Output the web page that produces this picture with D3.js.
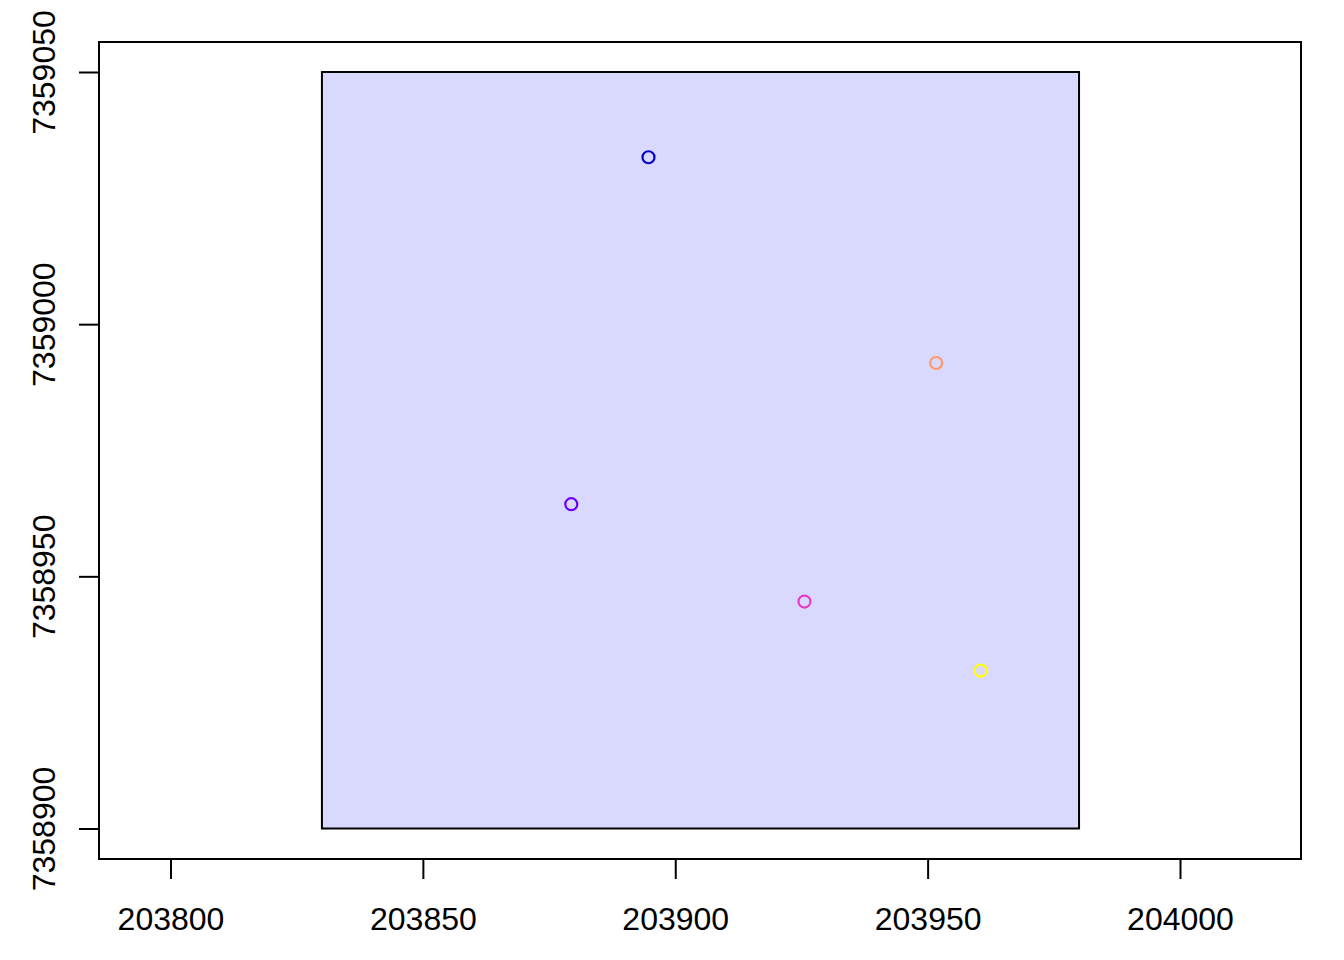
<!DOCTYPE html>
<html><head><meta charset="utf-8">
<script src="https://cdn.jsdelivr.net/npm/d3@7"></script>
<style>body{margin:0;background:#fff}svg{display:block}</style>
</head><body>
<script>
const xTicks = [203800, 203850, 203900, 203950, 204000];
const yTicks = [7358900, 7358950, 7359000, 7359050];
const rectX = [203830, 203980];
const rectY = [7358900, 7359050];
const pointX = [203894.7, 203951.7, 203879.4, 203925.6, 203960.5];
const pointY = [7359033.1, 7358992.3, 7358964.3, 7358945.0, 7358931.3];
const pointColors = ["#0000C8", "#FF9966", "#6A00FF", "#E63CC8", "#FFFF00"];

const W = 1344, H = 960;
const svg = d3.select("body").append("svg").attr("width", W).attr("height", H);
const x = d3.scaleLinear().domain([203800, 204000]).range([170.5, 1180]);
const y = d3.scaleLinear().domain([7358900, 7359050]).range([828.5, 72]);
const box = {l: 99, r: 1301, t: 42, b: 859};

svg.append("rect")
  .attr("x", x(rectX[0])).attr("y", y(rectY[1]))
  .attr("width", x(rectX[1]) - x(rectX[0])).attr("height", y(rectY[0]) - y(rectY[1]))
  .attr("fill", "#D9D9FF").attr("stroke", "#000").attr("stroke-width", 2);

svg.selectAll("circle.pt").data(pointX.map((d, i) => ({x: d, y: pointY[i], c: pointColors[i]})))
  .join("circle").attr("class", "pt")
  .attr("cx", d => x(d.x)).attr("cy", d => y(d.y)).attr("r", 6)
  .attr("fill", "none").attr("stroke", d => d.c).attr("stroke-width", 2.2);

svg.append("rect").attr("x", box.l).attr("y", box.t)
  .attr("width", box.r - box.l).attr("height", box.b - box.t)
  .attr("fill", "none").attr("stroke", "#000").attr("stroke-width", 2);

const xAxis = d3.axisBottom(x).tickValues(xTicks).tickSize(20).tickPadding(28).tickFormat(d3.format("d"));
const gx = svg.append("g").attr("transform", `translate(0,${box.b})`).call(xAxis);
gx.select(".domain").attr("d", `M${x(xTicks[0])},0H${x(xTicks[xTicks.length-1])}`).attr("stroke-width", 2);
gx.selectAll(".tick line").attr("stroke-width", 2);
gx.selectAll("text").attr("font-family", "Liberation Sans, Arial, sans-serif").attr("font-size", 32).attr("fill", "#000");

const yAxis = d3.axisLeft(y).tickValues(yTicks).tickSize(20).tickPadding(0).tickFormat(d3.format("d"));
const gy = svg.append("g").attr("transform", `translate(${box.l},0)`).call(yAxis);
gy.select(".domain").attr("d", `M0,${y(yTicks[0])}V${y(yTicks[yTicks.length-1])}`).attr("stroke-width", 2);
gy.selectAll(".tick line").attr("stroke-width", 2);
gy.selectAll("text")
  .attr("font-family", "Liberation Sans, Arial, sans-serif").attr("font-size", 32).attr("fill", "#000")
  .attr("x", null).attr("dy", null)
  .attr("text-anchor", "middle")
  .attr("transform", "translate(-44,0) rotate(-90)");
</script>
</body></html>
